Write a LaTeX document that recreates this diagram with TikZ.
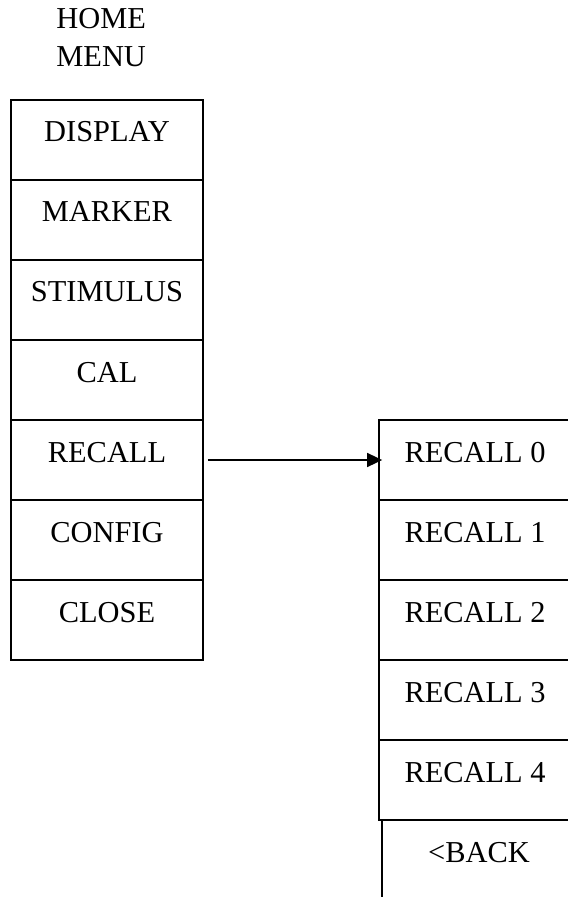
\documentclass[tikz,border=0pt]{standalone}
\usepackage{fontspec}
\setmainfont{Liberation Serif}
\usetikzlibrary{positioning,arrows.meta}

\begin{document}
\begin{tikzpicture}[x=0.5pt,y=-0.5pt,
                     font=\fontsize{15.2}{19}\selectfont,
                     menu node/.style={draw,line width=0.9pt,minimum width=96pt,inner sep=0pt,text height=21pt,text depth=19pt},
                     back node/.style={menu node,draw=none},
                     menu arrow/.style={line width=0.9pt,-{Triangle[length=7.5pt,width=7pt]},shorten <=2pt,shorten >=-2pt}
                    ]
   \useasboundingbox (0,0) rectangle (567,897);
   \node[anchor=base west,align=left,inner sep=0pt] (title) at (56,67) {HOME\\MENU};
   % home menu
   \node[menu node] (display) at (107,140) {DISPLAY};
   \node[menu node] (marker) at (107,220) {MARKER};
   \node[menu node] (stimulus) at (107,300) {STIMULUS};
   \node[menu node] (cal) at (107,380) {CAL};
   \node[menu node] (recall) at (107,460) {RECALL};
   \node[menu node] (config) at (107,540) {CONFIG};
   \node[menu node] (close) at (107,620) {CLOSE};
   % recall menu
   \node[menu node] (rec0) at (475,460) {RECALL 0};
   \node[menu node] (rec1) at (475,540) {RECALL 1};
   \node[menu node] (rec2) at (475,620) {RECALL 2};
   \node[menu node] (rec3) at (475,700) {RECALL 3};
   \node[menu node] (rec4) at (475,780) {RECALL 4};
   \node[back node] (back) at (479,860) {<BACK};
   \draw[line width=0.9pt] (back.north west) -- (back.south west);
   \draw[menu arrow] (recall.east) -- (rec0.west);
\end{tikzpicture}
\end{document}
